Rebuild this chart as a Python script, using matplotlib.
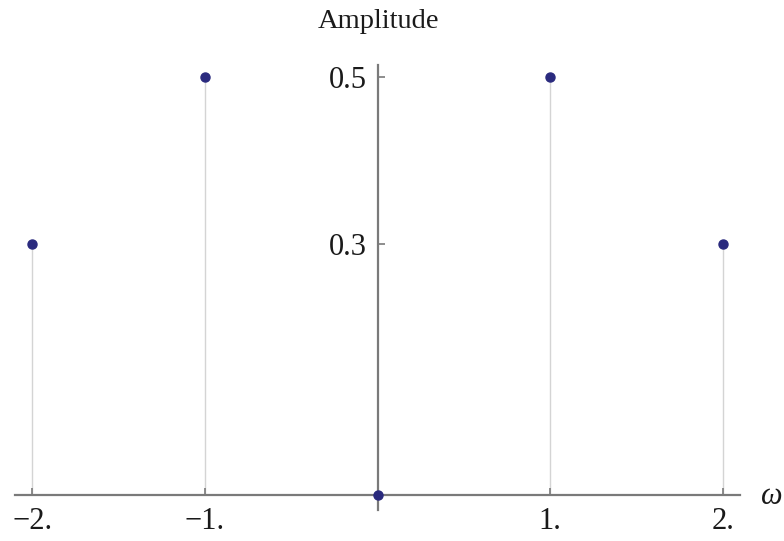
import matplotlib
matplotlib.use("Agg")
import matplotlib.pyplot as plt

# 데이터
omega = [-2, -1, 0, 1, 2]
amplitude = [0.3, 0.5, 0.0, 0.5, 0.3]
x_ticks = [-2, -1, 1, 2]
x_labels = ["\u22122.", "\u22121.", "1.", "2."]
y_ticks = [0.3, 0.5]
y_labels = ["0.3", "0.5"]

plt.rcParams['font.family'] = ['Liberation Serif', 'DejaVu Serif']

fig = plt.figure(figsize=(7.84, 5.41), dpi=100)
ax = fig.add_axes([15 / 784, 31 / 541, 725 / 784, 445.5 / 541])
ax.set_xlim(-2.1, 2.1)
ax.set_ylim(-0.018, 0.515)

# stem lines + points
ax.vlines(omega, 0, amplitude, color='#d4d4d4', lw=1.0, zorder=1)
ax.plot(omega, amplitude, 'o', color='#2a2a7e', ms=6.5, zorder=4, clip_on=False)

# axes through origin
for side in ['top', 'right']:
    ax.spines[side].set_visible(False)
ax.spines['left'].set_position(('data', 0))
ax.spines['bottom'].set_position(('data', 0))
for side in ['left', 'bottom']:
    ax.spines[side].set_color('#7a7a7a')
    ax.spines[side].set_linewidth(1.6)
    ax.spines[side].set_zorder(3)

ax.set_xticks(x_ticks)
ax.set_xticklabels(x_labels, fontsize=22)
ax.set_yticks(y_ticks)
ax.set_yticklabels(y_labels, fontsize=22)
ax.tick_params(axis='both', direction='in', length=5, width=1.2, color='#7a7a7a', labelcolor='#1a1a1a')
ax.tick_params(axis='x', pad=9)
ax.tick_params(axis='y', pad=8)

fig.text(378 / 784, 1 - 22 / 541, "Amplitude", ha='center', va='center', fontsize=20.5, color='#1a1a1a')
fig.text(772 / 784, 1 - 497 / 541, "\u03c9", ha='center', va='center', fontsize=22, style='italic', color='#1a1a1a')

plt.savefig("out.png", dpi=100)
plt.close()
